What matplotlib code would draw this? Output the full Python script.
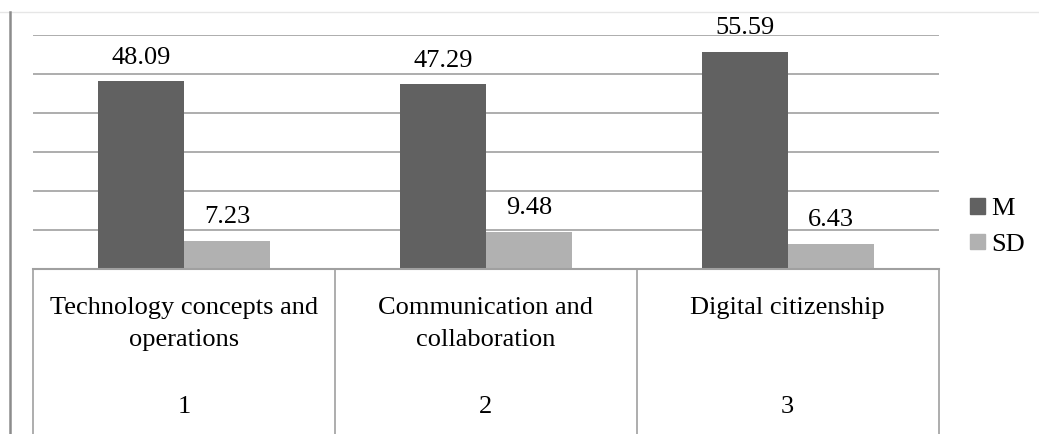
import matplotlib
matplotlib.use('Agg')
import matplotlib.pyplot as plt
from matplotlib import font_manager
from matplotlib.lines import Line2D
from matplotlib.patches import Patch
import numpy as np

# pick the regular Liberation Serif file directly
serif_files = [f.fname for f in font_manager.fontManager.ttflist
               if f.name == 'Liberation Serif' and f.style == 'normal' and f.weight in (400, 'normal')]
if serif_files:
    fp = font_manager.FontProperties(fname=serif_files[0], size=19)
else:
    fp = font_manager.FontProperties(family='serif', size=19)

categories = ['Technology concepts and\noperations', 'Communication and\ncollaboration', 'Digital citizenship']
numbers = ['1', '2', '3']
m_vals = [48.09, 47.29, 55.59]
sd_vals = [7.23, 9.48, 6.43]
series = ['M', 'SD']
colors = ['#616161', '#b1b1b1']

W, H = 1039, 434
fig = plt.figure(figsize=(W / 100, H / 100), dpi=100)

x0, x1 = 33, 938.7
ytop, ybot = 34.7, 268.7
ax = fig.add_axes([x0 / W, 1 - ybot / H, (x1 - x0) / W, (ybot - ytop) / H])

x = np.arange(len(categories)) + 0.5
bw = 0.285
b1 = ax.bar(x - bw / 2, m_vals, bw, color=colors[0], label=series[0])
b2 = ax.bar(x + bw / 2, sd_vals, bw, color=colors[1], label=series[1])
for bars, vals in ((b1, m_vals), (b2, sd_vals)):
    for b, v in zip(bars, vals):
        ax.annotate('%.2f' % v, (b.get_x() + b.get_width() / 2, v),
                    xytext=(0, 17), textcoords='offset points',
                    ha='center', va='center', fontproperties=fp)

ax.set_xlim(0, 3)
ax.set_ylim(0, 60)
ax.set_yticks(np.arange(0, 61, 10))
ax.yaxis.grid(True, color='#a0a0a0', linewidth=1.2)
ax.set_axisbelow(True)
ax.tick_params(left=False, bottom=False, labelleft=False, labelbottom=False)
for s in ax.spines.values():
    s.set_visible(False)

# category table under the bars
th = H - ybot
tb = fig.add_axes([x0 / W, 0, (x1 - x0) / W, th / H])
tb.set_xlim(0, 3)
tb.set_ylim(0, th)
tb.axis('off')
tb.plot([0, 3], [th, th], color='#a0a0a0', lw=1.5, clip_on=False)
for i in range(4):
    tb.plot([i, i], [0, th], color='#a0a0a0', lw=1.2, clip_on=False)
for i, (c, n) in enumerate(zip(categories, numbers)):
    for j, line in enumerate(c.split('\n')):
        tb.text(i + 0.5, H - (308 + 32 * j), line, ha='center', va='center', fontproperties=fp)
    tb.text(i + 0.5, H - 407, n, ha='center', va='center', fontproperties=fp)

# outer frame lines
fig.add_artist(Line2D([0, 1], [1 - 12 / H] * 2, color='#e6e6e6', lw=1))
fig.add_artist(Line2D([10 / W] * 2, [0, 1 - 12 / H], color='#8c8c8c', lw=1.8))

handles = [Patch(color=colors[0]), Patch(color=colors[1])]
fig.legend(handles, series, loc='center left', bbox_to_anchor=(970 / W, 1 - 227 / H),
           frameon=False, prop=fp, handlelength=0.55, handleheight=0.55,
           handletextpad=0.25, borderpad=0, borderaxespad=0, labelspacing=0.5)

fig.savefig('out.png', dpi=100)
